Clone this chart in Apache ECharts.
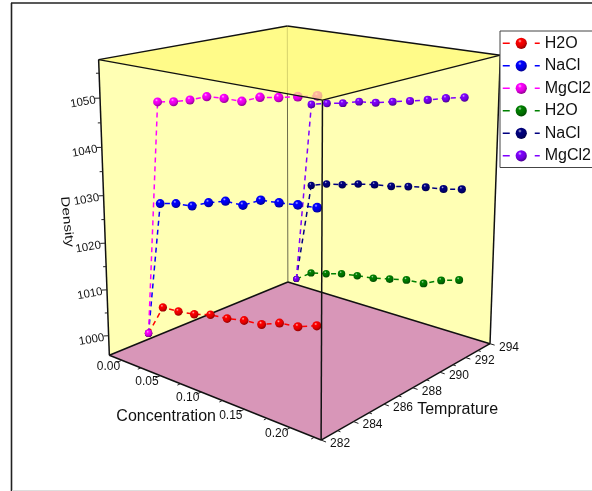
<!DOCTYPE html>
<html><head><meta charset="utf-8">
<style>html,body{margin:0;background:#fff}#c{width:592px;height:491px}</style>
<script src="https://cdn.jsdelivr.net/npm/echarts@6/dist/echarts.min.js"></script></head>
<body><div id="c"></div>
<script>
// ---------- data ----------
const concentration = [0, 0.02, 0.04, 0.06, 0.08, 0.10, 0.12, 0.14, 0.16, 0.18, 0.20];
const seriesNames = ['H2O', 'NaCl', 'MgCl2', 'H2O', 'NaCl', 'MgCl2'];
const temperatureFront = 283.6;
const temperatureBack = 293.7;
const h2oFront   = [999.2, 1006.1, 1006.4, 1007.0, 1008.1, 1008.5, 1009.3, 1009.7, 1011.2, 1011.7, 1013.1];
const naclFront  = [999.2, 1028.3, 1029.2, 1029.6, 1031.2, 1032.4, 1032.5, 1034.4, 1034.8, 1035.3, 1035.7];
const mgcl2Front = [999.2, 1049.2, 1049.9, 1050.9, 1052.2, 1052.5, 1052.6, 1054.0, 1054.6, 1055.4, 1056.2];
const h2oBack    = [997.8, 1000.4, 1001.3, 1002.4, 1003.0, 1003.5, 1004.4, 1005.3, 1005.6, 1007.4, 1008.6];
const naclBack   = [997.8, 1021.7, 1022.9, 1023.6, 1024.6, 1025.3, 1025.8, 1026.6, 1027.3, 1027.8, 1028.6];
const mgcl2Back  = [997.8, 1040.8, 1041.7, 1042.4, 1043.4, 1043.8, 1044.7, 1045.5, 1046.4, 1047.4, 1048.2];
const concTicks = ['0.00', '0.05', '0.10', '0.15', '0.20'];
const tempTicks = ['282', '284', '286', '288', '290', '292', '294'];
const densityTicks = ['1000', '1010', '1020', '1030', '1040', '1050'];

// ---------- 3D axis ranges ----------
const C0 = -0.017, C1 = 0.232, T0 = 282, T1 = 294, R0 = 995.7, R1 = 1057.7;

// ---------- camera fitted to the eight box corners (screen px) ----------
const corners = [[0,0,0,109.3,355],[1,0,0,321,440],[1,1,0,490,344],[0,1,0,288,282],
                 [0,0,1,98.3,60],[1,0,1,323,100],[1,1,1,500,55],[0,1,1,287.5,26]];
function fitCamera() {
  const A = [], b = [];
  corners.forEach(([X,Y,Z,u,v]) => {
    A.push([X,Y,Z,1,0,0,0,0,-u*X,-u*Y,-u*Z]); b.push(u);
    A.push([0,0,0,0,X,Y,Z,1,-v*X,-v*Y,-v*Z]); b.push(v);
  });
  const n = 11, M = [];
  for (let i = 0; i < n; i++) {
    M.push(new Array(n + 1).fill(0));
    for (let j = 0; j < n; j++) for (let k = 0; k < A.length; k++) M[i][j] += A[k][i] * A[k][j];
    for (let k = 0; k < A.length; k++) M[i][n] += A[k][i] * b[k];
  }
  for (let i = 0; i < n; i++) {
    let p = i;
    for (let r = i + 1; r < n; r++) if (Math.abs(M[r][i]) > Math.abs(M[p][i])) p = r;
    [M[i], M[p]] = [M[p], M[i]];
    for (let r = 0; r < n; r++) if (r !== i) {
      const f = M[r][i] / M[i][i];
      for (let c = i; c <= n; c++) M[r][c] -= f * M[i][c];
    }
  }
  return M.map((r, i) => r[n] / r[i]);
}
const P = fitCamera();
function project(c, t, r) {
  const X = (c - C0) / (C1 - C0), Y = (t - T0) / (T1 - T0), Z = (r - R0) / (R1 - R0);
  const w = P[8]*X + P[9]*Y + P[10]*Z + 1;
  return [(P[0]*X + P[1]*Y + P[2]*Z + P[3]) / w, (P[4]*X + P[5]*Y + P[6]*Z + P[7]) / w];
}

// ---------- style helpers ----------
const FONT = 'Liberation Sans';
function shade(hex, f) {
  const n = parseInt(hex.slice(1), 16);
  const ch = s => Math.round(((n >> s) & 255) * f);
  return `rgb(${ch(16)},${ch(8)},${ch(0)})`;
}
function tint(hex, f) {
  const n = parseInt(hex.slice(1), 16);
  const ch = s => Math.round(((n >> s) & 255) + (255 - ((n >> s) & 255)) * f);
  return `rgb(${ch(16)},${ch(8)},${ch(0)})`;
}
function ball(hex) {
  return { type:'radial', x:0.38, y:0.3, r:0.75, colorStops:[
    {offset:0, color:tint(hex,0.7)}, {offset:0.22, color:shade(hex,1)}, {offset:0.6, color:shade(hex,0.88)}, {offset:1, color:shade(hex,0.52)} ] };
}
function pointSeries(name, hex, temp, values, near, far, first) {
  return {
    type:'line', name, z:5, animation:false, silent:true, clip:false,
    symbol:'circle', showSymbol:true, showAllSymbol:true,
    itemStyle:{ color:ball(hex) },
    lineStyle:{ color:hex, width:1.5, type:[5,4] },
    data: values.map((v, i) => ({
      value: project(concentration[i], temp, v),
      symbolSize: i === 0 ? first : near + (far - near) * i / (values.length - 1)
    }))
  };
}
function shapes(z, build) {
  return { type:'custom', z, silent:true, animation:false, clip:false, coordinateSystem:'cartesian2d',
    data:[[0,0]], renderItem:(p, api) => ({ type:'group', children: build(api) }) };
}
const pt = (api, c, t, r) => api.coord(project(c, t, r));
const poly = (api, pts, fill) => ({ type:'polygon', shape:{ points:pts.map(q => pt(api, q[0], q[1], q[2])) }, style:{ fill } });
const seg = (api, a, b, stroke, width) => {
  const p = pt(api, a[0], a[1], a[2]), q = pt(api, b[0], b[1], b[2]);
  return { type:'line', shape:{ x1:p[0], y1:p[1], x2:q[0], y2:q[1] }, style:{ stroke, lineWidth:width } };
};
const txt = (api, at, dx, dy, text, size, rot, sx) => {
  const p = pt(api, at[0], at[1], at[2]);
  return { type:'text', x:p[0] + dx, y:p[1] + dy, rotation:(rot || 0) * Math.PI / 180, scaleX:sx || 1,
    style:{ text, fill:'#111', font:`${size}px "${FONT}"`, align:'center', verticalAlign:'middle' } };
};

const series = [
  // walls and floor
  shapes(1, api => [
    poly(api, [[C0,T0,R0],[C0,T1,R0],[C0,T1,R1],[C0,T0,R1]], '#FFFFB4'),
    poly(api, [[C0,T1,R0],[C1,T1,R0],[C1,T1,R1],[C0,T1,R1]], '#FFFFB4'),
    poly(api, [[C0,T0,R0],[C1,T0,R0],[C1,T1,R0],[C0,T1,R0]], '#D896B8'),
    seg(api, [C0,T1,R0], [C0,T1,R1], '#6b6b4a', 1),
    seg(api, [C0,T0,R0], [C0,T1,R0], '#111', 1.5),
    seg(api, [C0,T1,R0], [C1,T1,R0], '#111', 1.5),
    seg(api, [C0,T0,R0], [C1,T0,R0], '#111', 1.5),
    seg(api, [C1,T0,R0], [C1,T1,R0], '#111', 1.5),
    seg(api, [C0,T0,R0], [C0,T0,R1], '#111', 1.5),
    seg(api, [C1,T1,R0], [C1,T1,R1], '#111', 1.5)
  ]),
  pointSeries(seriesNames[0] + ' ', '#FF0000', temperatureFront, h2oFront, 8.2, 9.2, 7.4),
  pointSeries(seriesNames[1] + ' ', '#0000FF', temperatureFront, naclFront, 8.8, 9.8, 7.4),
  pointSeries(seriesNames[2] + ' ', '#FF00FF', temperatureFront, mgcl2Front, 8.8, 9.8, 7.4),
  pointSeries(seriesNames[3], '#008000', temperatureBack, h2oBack, 7.2, 8, 6.2),
  pointSeries(seriesNames[4], '#000080', temperatureBack, naclBack, 7.2, 8.2, 6.2),
  pointSeries(seriesNames[5], '#8000FF', temperatureBack, mgcl2Back, 7.6, 8.4, 6.2),
  // translucent top face, front edges
  shapes(10, api => [ poly(api, [[C0,T0,R1],[C1,T0,R1],[C1,T1,R1],[C0,T1,R1]], 'rgba(255,250,120,0.72)') ]),
  shapes(20, api => {
    const kids = [
      seg(api, [C1,T0,R0], [C1,T0,R1], '#111', 1.5),
      seg(api, [C0,T0,R1], [C1,T0,R1], '#111', 1.5),
      seg(api, [C1,T0,R1], [C1,T1,R1], '#111', 1.5),
      seg(api, [C1,T1,R1], [C0,T1,R1], '#111', 1.5),
      seg(api, [C0,T1,R1], [C0,T0,R1], '#111', 1.5)
    ];
    // concentration ticks
    for (let c = 0; c <= 0.2251; c += 0.025) {
      const major = Math.round(c * 1000) % 50 === 0;
      kids.push(seg(api, [c,T0,R0], [c,T0 - (major ? 0.3 : 0.18),R0], '#222', 1));
    }
    concTicks.forEach(s => kids.push(txt(api, [+s,T0,R0], -13.5, 6, s, 12)));
    // temperature ticks
    for (let t = 282; t <= 294; t++) {
      const major = t % 2 === 0;
      kids.push(seg(api, [C1,t,R0], [C1 + (major ? 0.005 : 0.003),t,R0], '#222', 1));
    }
    tempTicks.forEach(s => kids.push(txt(api, [C1,+s,R0], 19, 3.5, s, 12)));
    // density ticks
    for (let r = 1000; r <= 1055; r += 5) {
      const major = r % 10 === 0;
      const k = major ? 1 : 0.6;
      kids.push(seg(api, [C0,T0,r], [C0 - 0.003 * k,T0 - 0.16 * k,r], '#222', 1));
    }
    densityTicks.forEach(s => kids.push(txt(api, [C0,T0,+s], -17, 4, s, 11.5, 10)));
    // axis titles
    kids.push(txt(api, [0.1,T0,R0], -35, 25, 'Concentration', 16));
    kids.push(txt(api, [C1,287,R0], 59, 14, 'Temprature', 16));
    kids.push(txt(api, [C0,T0,1022], -38, -12, 'Density', 12, -84, 1.27));
    return kids;
  })
];

const chart = echarts.init(document.getElementById('c'), null, { renderer:'canvas' });
chart.setOption({
  animation:false,
  backgroundColor:'#fff',
  grid:{ left:0, right:0, top:0, bottom:0 },
  xAxis:{ type:'value', min:0, max:592, show:false },
  yAxis:{ type:'value', min:0, max:491, inverse:true, show:false },
  legend:{
    show:true, orient:'vertical', left:500, top:31, z:30, selectedMode:false,
    padding:[4.3,12,3.7,2], itemGap:6.5, itemWidth:37, itemHeight:14,
    backgroundColor:'#fff', borderColor:'#444', borderWidth:1, borderRadius:0,
    data:[seriesNames[0]+' ',seriesNames[1]+' ',seriesNames[2]+' ',seriesNames[3],seriesNames[4],seriesNames[5]],
    formatter:n => n.trim(),
    lineStyle:{ type:[7,25], width:1.5 },
    textStyle:{ color:'#111', fontFamily:FONT, fontSize:16, lineHeight:14 }
  },
  graphic:[
    { type:'line', silent:true, z:0, shape:{ x1:11.5, y1:3, x2:11.5, y2:491 }, style:{ stroke:'#222', lineWidth:1.6 } },
    { type:'line', silent:true, z:0, shape:{ x1:11, y1:3, x2:592, y2:3 }, style:{ stroke:'#222', lineWidth:1.6 } },
    { type:'line', silent:true, z:0, shape:{ x1:12, y1:490.5, x2:592, y2:490.5 }, style:{ stroke:'#ddd', lineWidth:1 } }
  ],
  series
});
</script></body></html>
